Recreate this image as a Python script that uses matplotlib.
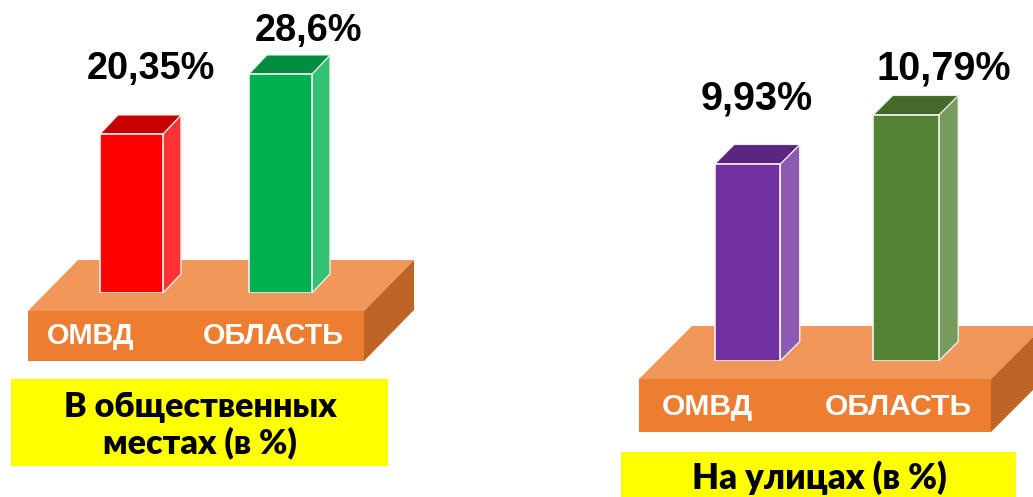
"""Two pseudo-3D bar panels on orange platforms."""

import matplotlib

matplotlib.use("Agg")
import matplotlib.pyplot as plt  # noqa: E402
from matplotlib.patches import Polygon, Rectangle  # noqa: E402

CATEGORIES = ["ОМВД", "ОБЛАСТЬ"]
PUBLIC_PLACES = [20.35, 28.6]
STREETS = [9.93, 10.79]
PUBLIC_TITLE = "В общественных\nместах (в %)"
STREETS_TITLE = "На улицах (в %)"

WIDTH, HEIGHT = 1033, 497
PLATFORM_FRONT = "#ED7D31"
PLATFORM_TOP = "#F1975A"
PLATFORM_SIDE = "#BE6427"
LABEL_FONT = ["Liberation Sans", "DejaVu Sans"]
TITLE_FONT = ["Lato", "DejaVu Sans"]


def draw_platform(bg, left, right, top, bottom, depth_x, depth_y):
    height = bottom - top
    bg.add_patch(Polygon([(left, top), (left + depth_x, top - depth_y), (right + depth_x, top - depth_y), (right, top)],
                         facecolor=PLATFORM_TOP, edgecolor="none"))
    bg.add_patch(Polygon([(right, top), (right + depth_x, top - depth_y), (right + depth_x, top - depth_y + height), (right, bottom)],
                         facecolor=PLATFORM_SIDE, edgecolor="none"))
    bg.add_patch(Rectangle((left, top), right - left, height, facecolor=PLATFORM_FRONT, edgecolor="none"))


def draw_bars(fig, values, colors, centers_px, bar_px, tops_px, base_px, depth_px):
    """Bars on their own axes; the y scale is calibrated from the two bar tops."""
    px_per_cat = centers_px[1] - centers_px[0]
    px_per_val = (tops_px[0] - tops_px[1]) / (values[1] - values[0])
    x0, x1 = centers_px[0] - px_per_cat, centers_px[1] + px_per_cat
    ax = fig.add_axes([x0 / WIDTH, 1 - base_px / HEIGHT, (x1 - x0) / WIDTH, base_px / HEIGHT])
    ax.set_xlim(-1, 2)
    y_base = values[0] - (base_px - tops_px[0]) / px_per_val
    ax.set_ylim(y_base, y_base + base_px / px_per_val)
    ax.axis("off")
    ax.patch.set_alpha(0)

    half = bar_px / px_per_cat / 2
    dx = depth_px[0] / px_per_cat
    dy = depth_px[1] / px_per_val
    for i, (value, (front, side, top)) in enumerate(zip(values, colors)):
        right = i + half
        left = i - half
        ax.add_patch(Polygon([(right, y_base), (right + dx, y_base + dy), (right + dx, value + dy), (right, value)],
                             facecolor=side, edgecolor="#EEEEEE", linewidth=1.0, joinstyle="miter"))
        ax.add_patch(Polygon([(left, value), (left + dx, value + dy), (right + dx, value + dy), (right, value)],
                             facecolor=top, edgecolor="#EEEEEE", linewidth=0.8, joinstyle="miter"))
        ax.bar(i, value - y_base, bottom=y_base, width=2 * half, color=front, edgecolor="#F2F2F2", linewidth=1.2)


def value_label(value):
    return f"{value:g}".replace(".", ",") + "%"


fig = plt.figure(figsize=(WIDTH / 100, HEIGHT / 100), dpi=100)
bg = fig.add_axes([0, 0, 1, 1])
bg.set_xlim(0, WIDTH)
bg.set_ylim(HEIGHT, 0)
bg.axis("off")

# left panel
draw_platform(bg, 28, 364, 311, 361, 50, 51)
bg.add_patch(Rectangle((11, 379), 377, 87, facecolor="#FFFF00", edgecolor="none"))
draw_bars(fig, PUBLIC_PLACES, [("#FF0000", "#FF3333", "#C80000"), ("#00B050", "#33C073", "#008D40")],
          [131.5, 280.5], 63, [134, 74], 293, (18, 19))
bg.text(150.5, 79, value_label(PUBLIC_PLACES[0]), fontsize=27.3, fontweight="bold", family=LABEL_FONT, ha="center", va="baseline")
bg.text(308, 41, value_label(PUBLIC_PLACES[1]), fontsize=27.3, fontweight="bold", family=LABEL_FONT, ha="center", va="baseline")
bg.text(91, 344, CATEGORIES[0], fontsize=20.8, fontweight="bold", color="white", family=LABEL_FONT, ha="center", va="baseline")
bg.text(273, 344, CATEGORIES[1], fontsize=20.8, fontweight="bold", color="white", family=LABEL_FONT, ha="center", va="baseline")
bg.text(200, 425, PUBLIC_TITLE, fontsize=24.5, fontweight="heavy", family=TITLE_FONT, ha="center", va="center", linespacing=1.15)

# right panel
draw_platform(bg, 639, 991, 379, 432, 53, 53)
bg.add_patch(Rectangle((621, 452), 395, 45, facecolor="#FFFF00", edgecolor="none"))
draw_bars(fig, STREETS, [("#7030A0", "#8C59B3", "#5A2680"), ("#548235", "#769B5D", "#436A2A")],
          [747.5, 906], 65.5, [164, 115], 361, (19.5, 19.5))
bg.text(757, 110, value_label(STREETS[0]), fontsize=28.5, fontweight="bold", family=LABEL_FONT, ha="center", va="baseline")
bg.text(943.5, 80, value_label(STREETS[1]), fontsize=28.5, fontweight="bold", family=LABEL_FONT, ha="center", va="baseline")
bg.text(707.5, 415, CATEGORIES[0], fontsize=21.7, fontweight="bold", color="white", family=LABEL_FONT, ha="center", va="baseline")
bg.text(898.5, 415, CATEGORIES[1], fontsize=21.7, fontweight="bold", color="white", family=LABEL_FONT, ha="center", va="baseline")
bg.text(819, 478, STREETS_TITLE, fontsize=25, fontweight="heavy", family=TITLE_FONT, ha="center", va="center")

fig.savefig("out.png", dpi=100)
plt.close(fig)
